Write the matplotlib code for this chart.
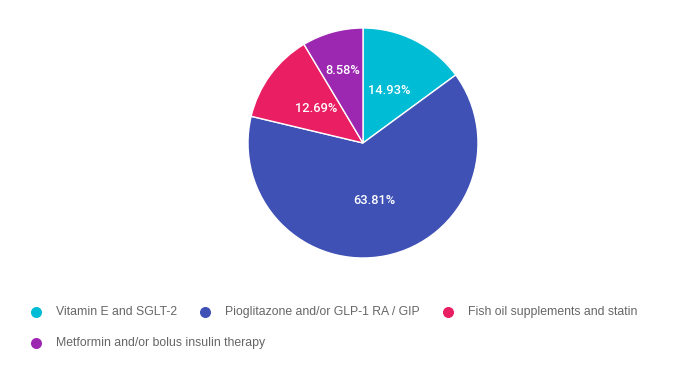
import matplotlib
matplotlib.use("Agg")
import numpy as np
import matplotlib.pyplot as plt

# data
labels = ["Vitamin E and SGLT-2", "Pioglitazone and/or GLP-1 RA / GIP",
          "Fish oil supplements and statin", "Metformin and/or bolus insulin therapy"]
shares = [14.93, 63.81, 12.69, 8.58]
colors = ["#00BCD4", "#3F51B5", "#E91E63", "#9C27B0"]

plt.rcParams['font.family'] = ['Roboto', 'DejaVu Sans']

W, H = 694, 373
fig = plt.figure(figsize=(W / 100, H / 100), dpi=100)

# pie axes, centre (363, 143) px, radius 115 px
cx, cy, r = 363, 143, 115
ax = fig.add_axes([(cx - r) / W, (H - cy - r) / H, 2 * r / W, 2 * r / H])
wedges, _ = ax.pie(
    shares, colors=colors, startangle=90, counterclock=False,
    wedgeprops=dict(edgecolor="white", linewidth=1, clip_on=False))
ax.set_xlim(-1, 1)
ax.set_ylim(-1, 1)
ax.set_aspect("equal")
ax.axis("off")

# percentage labels; the small slice gets pushed a bit further out
for w, val in zip(wedges, shares):
    mid = np.deg2rad((w.theta1 + w.theta2) / 2)
    d = 0.65 if val < 10 else 0.51
    ax.text(d * np.cos(mid), d * np.sin(mid), f"{val:.2f}%", color="white",
            fontsize=9.3, fontweight="medium", ha="center", va="center")

# flow-style legend under the pie
lax = fig.add_axes([0, 0, 1, 1])
lax.set_xlim(0, W)
lax.set_ylim(H, 0)
lax.axis("off")
fig.canvas.draw()
renderer = fig.canvas.get_renderer()

x0, x, y = 36, 36, 312
row_h = 31
for lab, col in zip(labels, colors):
    t = lax.text(0, 0, lab, fontsize=8.8, color="#666666", va="center",
                 family=["Liberation Sans", "DejaVu Sans"])
    tw = t.get_window_extent(renderer).width
    if x + 20 + tw > W - 30:
        x, y = x0, y + row_h
    lax.scatter([x], [y], s=48, color=col, zorder=3)
    t.set_position((x + 20, y))
    x += 20 + tw + 28

fig.savefig("out.png", dpi=100)
